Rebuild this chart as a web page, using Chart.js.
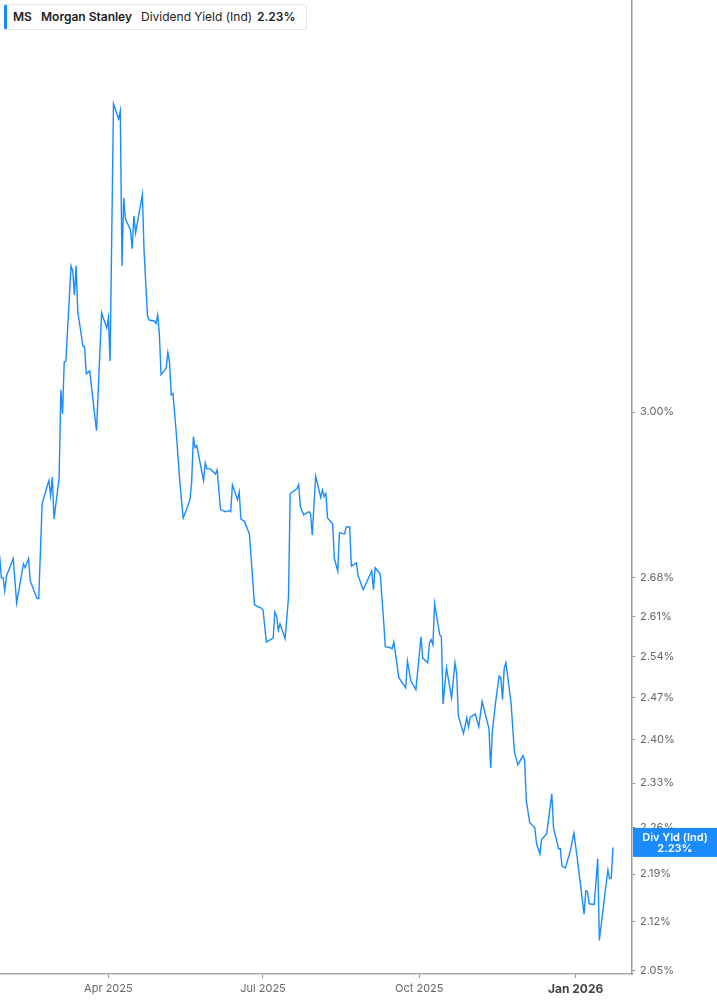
<!DOCTYPE html>
<html>
<head>
<meta charset="utf-8">
<script src="https://cdn.jsdelivr.net/npm/chart.js@4.4.1/dist/chart.umd.min.js"></script>
<style>
html,body{margin:0;padding:0;background:#fff;}
#wrap{position:relative;width:717px;height:1005px;overflow:hidden;}
canvas{display:block;}
#legend{position:absolute;left:4px;top:4px;width:299px;height:24px;border:1px solid #e6e6e6;border-left:3px solid #1a8cff;border-radius:3px;background:#fff;font-family:Inter,sans-serif;font-size:12px;color:#222;}
#legend span{position:absolute;top:4px;line-height:15px;white-space:nowrap;}
</style>
</head>
<body>
<div id="wrap">
<canvas id="c" width="717" height="1005"></canvas>
<div id="legend">
<span style="left:6px;font-weight:600">MS</span>
<span style="left:34px;font-weight:600">Morgan Stanley</span>
<span style="left:134px;font-weight:400">Dividend Yield (Ind)</span>
<span style="left:250px;font-weight:600">2.23%</span>
</div>
</div>
<script>
const dates = [
'2025-01-27','2025-01-28','2025-01-29','2025-01-30','2025-01-31','2025-02-04','2025-02-06','2025-02-10','2025-02-11','2025-02-13',
'2025-02-14','2025-02-18','2025-02-19','2025-02-21','2025-02-24','2025-02-25','2025-02-26','2025-02-27','2025-02-28','2025-03-03',
'2025-03-04','2025-03-05','2025-03-06','2025-03-07','2025-03-10','2025-03-11','2025-03-12','2025-03-13','2025-03-14','2025-03-17',
'2025-03-18','2025-03-19','2025-03-21','2025-03-25','2025-03-28','2025-03-31','2025-04-01','2025-04-02','2025-04-04','2025-04-07',
'2025-04-08','2025-04-09','2025-04-10','2025-04-11','2025-04-14','2025-04-15','2025-04-16','2025-04-17','2025-04-21','2025-04-22',
'2025-04-24','2025-04-25','2025-04-28','2025-04-29','2025-04-30','2025-05-01','2025-05-02','2025-05-05','2025-05-06','2025-05-07',
'2025-05-08','2025-05-09','2025-05-11','2025-05-13','2025-05-15','2025-05-17','2025-05-19','2025-05-20','2025-05-21','2025-05-22',
'2025-05-23','2025-05-27','2025-05-28','2025-05-29','2025-05-31','2025-06-03','2025-06-04','2025-06-06','2025-06-09','2025-06-11',
'2025-06-12','2025-06-13','2025-06-16','2025-06-17','2025-06-18','2025-06-20','2025-06-23','2025-06-26','2025-06-27','2025-06-30',
'2025-07-01','2025-07-03','2025-07-07','2025-07-08','2025-07-09','2025-07-10','2025-07-11','2025-07-14','2025-07-16','2025-07-17',
'2025-07-21','2025-07-22','2025-07-23','2025-07-25','2025-07-28','2025-07-29','2025-07-30','2025-08-01','2025-08-04','2025-08-05',
'2025-08-06','2025-08-07','2025-08-08','2025-08-11','2025-08-12','2025-08-14','2025-08-15','2025-08-18','2025-08-19','2025-08-21',
'2025-08-22','2025-08-25','2025-08-26','2025-08-29','2025-09-03','2025-09-04','2025-09-05','2025-09-08','2025-09-10','2025-09-11',
'2025-09-14','2025-09-15','2025-09-16','2025-09-19','2025-09-21','2025-09-23','2025-09-24','2025-09-26','2025-09-29','2025-10-02',
'2025-10-03','2025-10-06','2025-10-07','2025-10-08','2025-10-09','2025-10-10','2025-10-13','2025-10-14','2025-10-15','2025-10-17',
'2025-10-20','2025-10-22','2025-10-23','2025-10-24','2025-10-27','2025-10-29','2025-10-30','2025-10-31','2025-11-03','2025-11-05',
'2025-11-07','2025-11-11','2025-11-12','2025-11-13','2025-11-15','2025-11-17','2025-11-18','2025-11-19','2025-11-20','2025-11-21',
'2025-11-24','2025-11-26','2025-11-28','2025-12-01','2025-12-02','2025-12-03','2025-12-05','2025-12-08','2025-12-09','2025-12-11',
'2025-12-12','2025-12-15','2025-12-18','2025-12-19','2025-12-22','2025-12-23','2025-12-24','2025-12-26','2025-12-29','2025-12-31',
'2026-01-02','2026-01-06','2026-01-07','2026-01-08','2026-01-09','2026-01-12','2026-01-14','2026-01-15','2026-01-18','2026-01-20',
'2026-01-21','2026-01-22','2026-01-23'
];
const divYield = [
2.720,2.680,2.680,2.656,2.683,2.715,2.634,2.705,2.698,2.715,
2.674,2.642,2.642,2.818,2.853,2.863,2.834,2.870,2.789,2.868,
3.046,2.996,3.104,3.106,3.314,3.303,3.249,3.314,3.212,3.138,
3.136,3.079,3.085,2.962,3.210,3.177,3.199,3.106,3.701,3.663,
3.683,3.314,3.471,3.422,3.396,3.353,3.429,3.389,3.479,3.348,
3.203,3.194,3.192,3.186,3.205,3.164,3.077,3.091,3.124,3.102,
3.035,3.038,2.956,2.863,2.791,2.807,2.826,2.859,2.950,2.928,
2.932,2.863,2.898,2.886,2.886,2.876,2.884,2.807,2.803,2.805,
2.803,2.855,2.826,2.841,2.789,2.785,2.761,2.631,2.629,2.625,
2.622,2.565,2.572,2.618,2.611,2.586,2.597,2.571,2.643,2.838,
2.847,2.855,2.812,2.797,2.803,2.799,2.759,2.872,2.830,2.845,
2.832,2.838,2.791,2.780,2.715,2.692,2.763,2.761,2.774,2.774,
2.701,2.707,2.683,2.658,2.692,2.658,2.698,2.687,2.602,2.557,
2.555,2.553,2.565,2.503,2.495,2.486,2.532,2.498,2.483,2.574,
2.537,2.529,2.564,2.569,2.560,2.633,2.578,2.574,2.459,2.520,
2.469,2.529,2.510,2.439,2.410,2.436,2.421,2.437,2.442,2.421,
2.463,2.418,2.354,2.414,2.464,2.506,2.503,2.466,2.520,2.529,
2.461,2.380,2.359,2.374,2.366,2.302,2.268,2.260,2.236,2.220,
2.242,2.251,2.313,2.260,2.228,2.228,2.202,2.199,2.226,2.252,
2.213,2.131,2.165,2.164,2.146,2.145,2.213,2.093,2.155,2.196,
2.183,2.184,2.230
];
const xTickDates = ['2025-04-01','2025-07-01','2025-10-01','2026-01-01'];
const xTickLabels = ['Apr 2025','Jul 2025','Oct 2025','Jan 2026'];
const yTickValues = [2.05,2.12,2.19,2.26,2.33,2.40,2.47,2.54,2.61,2.68,3.00];
const seriesLabel = 'Div Yld (Ind)';
const lastLabel = '2.23%';

const BASE = Date.UTC(2025,0,1);
function dayNum(s){const p=s.split('-').map(Number);return (Date.UTC(p[0],p[1]-1,p[2])-BASE)/86400000;}
const points = dates.map((d,i)=>({x:dayNum(d), y:divYield[i]}));
const xTickVals = xTickDates.map(dayNum);
const BLUE = '#1a8cff';

const badgePlugin = {
  id:'badge',
  afterDraw(chart){
    const ctx = chart.ctx, ys = chart.scales.y, area = chart.chartArea;
    const yv = ys.getPixelForValue(divYield[divYield.length-1]) - 5;
    const x0 = area.right + 1, x1 = chart.width, h = 29;
    ctx.save();
    ctx.fillStyle = BLUE;
    ctx.fillRect(x0, yv - h/2, x1 - x0, h);
    ctx.fillStyle = '#fff';
    ctx.textAlign = 'center';
    ctx.textBaseline = 'middle';
    ctx.font = '600 11px Inter, sans-serif';
    const cx = (x0 + x1)/2;
    ctx.fillText(seriesLabel, cx, yv - 5);
    ctx.fillText(lastLabel, cx, yv + 6);
    ctx.restore();
  }
};

function noPad(s){ s.paddingTop = 0; s.paddingBottom = 0; s.paddingLeft = 0; s.paddingRight = 0; }

new Chart(document.getElementById('c'), {
  type:'line',
  data:{ datasets:[{ data:points, borderColor:BLUE, borderWidth:1.4, pointRadius:0, tension:0, fill:false }] },
  options:{
    responsive:false, animation:false, devicePixelRatio:1,
    layout:{ padding:0 },
    plugins:{ legend:{display:false}, tooltip:{enabled:false} },
    scales:{
      x:{
        type:'linear', min:26.2, max:398.2,
        afterBuildTicks(s){ s.ticks = xTickVals.map(v=>({value:v})); },
        afterFit(s){ s.height = 31; noPad(s); },
        grid:{ drawOnChartArea:false, drawTicks:true, tickLength:4, color:'#999', tickColor:'#999' },
        border:{ display:true, color:'#aaa', width:1.5 },
        ticks:{
          autoSkip:false, maxRotation:0, padding:4,
          callback(v,i){ return xTickLabels[i]; },
          font(ctx){ return ctx.index===3 ? {family:'Inter', size:12, weight:'700'} : {family:'Inter', size:11, weight:'400'}; },
          color(ctx){ return ctx.index===3 ? '#444' : '#666'; }
        }
      },
      y:{
        type:'logarithmic', position:'right', min:2.0458, max:3.972, bounds:'data',
        afterBuildTicks(s){ s.ticks = yTickValues.map(v=>({value:v})); },
        afterFit(s){ s.width = 85; noPad(s); },
        grid:{ drawOnChartArea:false, drawTicks:true, tickLength:3, color:'#888', tickColor:'#888' },
        border:{ display:true, color:'#999', width:1.5 },
        ticks:{
          autoSkip:false, padding:5,
          callback(v){ return Number(v).toFixed(2)+'%'; },
          font:{family:'Inter', size:11},
          color:'#666'
        }
      }
    }
  },
  plugins:[badgePlugin]
});
</script>
</body>
</html>
